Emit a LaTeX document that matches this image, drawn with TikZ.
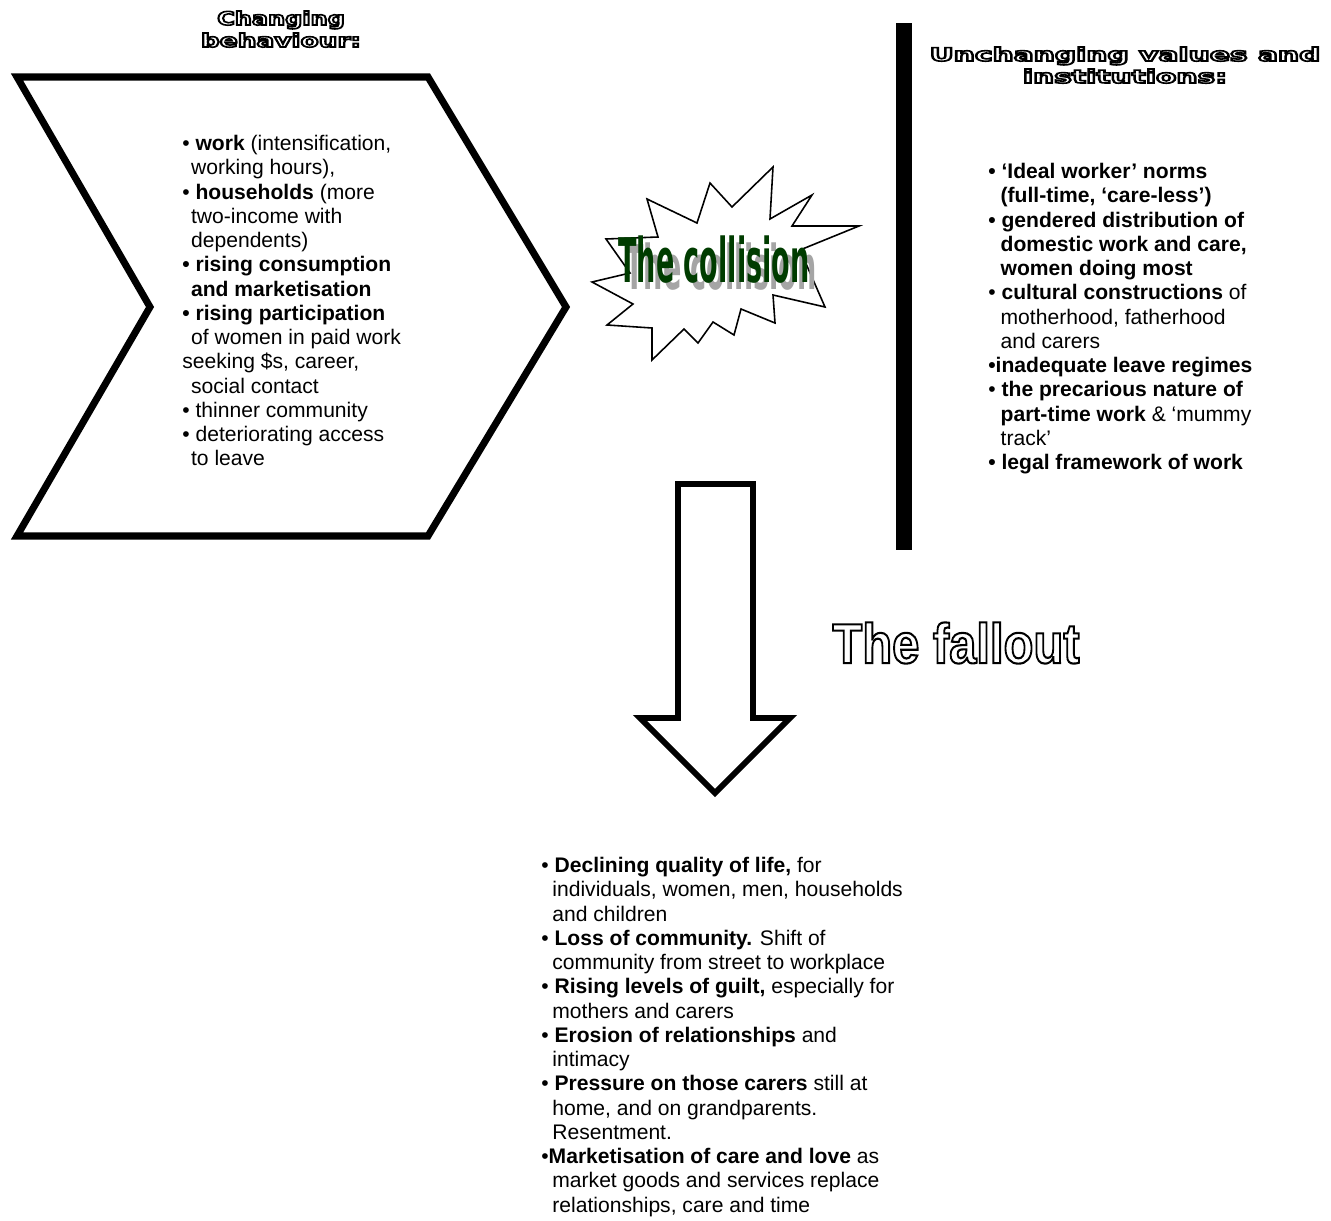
\documentclass[tikz,border=0pt]{standalone}
\usepackage{fontspec}
\setmainfont{Liberation Sans}
\newfontfamily\djv{DejaVu Sans}
\usepackage{graphicx}
\definecolor{collgreen}{RGB}{0,60,0}
\definecolor{shadowgray}{RGB}{165,165,165}
% outlined (stroked) text through the PDF text rendering mode
\newcommand{\strk}[2][0.5]{\special{pdf:literal direct 1 Tr #1 w}#2\special{pdf:literal direct 0 Tr}}
\begin{document}
\begin{tikzpicture}[x=0.02cm,y=-0.02cm,
  txt/.style={font=\fontsize{12}{13.8}\selectfont, align=left, inner sep=0pt, anchor=north west},
  hdr/.style={font=\djv\bfseries\fontsize{10.5}{12}\selectfont, inner sep=0pt, anchor=base},
  outline shape/.style={draw=black, line join=miter, fill=white}]
\useasboundingbox (0,0) rectangle (1331,1220);
\fill[white] (0,0) rectangle (1331,1220);

% left chevron
\draw[outline shape, line width=4pt] (17,77) -- (428,77) -- (566,307) -- (428,536) -- (17,536) -- (150,307) -- cycle;

% down arrow
\draw[outline shape, line width=3.4pt] (678,484) -- (753,484) -- (753,718) -- (790,718) -- (715,793) -- (640,718) -- (678,718) -- cycle;

% vertical bar
\fill[black] (896,23) rectangle (912,550);

% starburst
\draw[outline shape, line width=0.9pt] (773,167) -- (770,219) -- (812,195) -- (792,226) -- (859,226) -- (800,250) -- (825,307) -- (773,295) -- (775,323) -- (741,309) -- (734,335) -- (713,322) -- (698,343) -- (684,329) -- (652,360) -- (652,328) -- (607,325) -- (633,304) -- (592,282) -- (630,273) -- (606,239) -- (658,237) -- (647,199) -- (697,223) -- (710,183) -- (732,207) -- cycle;

% collision
\node[font=\djv\bfseries\fontsize{35}{40}\selectfont, text=shadowgray, inner sep=0pt] (collshadow) at (721,267) {\scalebox{0.44}[1]{The collision}};
\node[font=\djv\bfseries\fontsize{35}{40}\selectfont, text=collgreen, inner sep=0pt] (collision) at (714,260) {\scalebox{0.44}[1]{The collision}};

% headers
\node[hdr] (hdrL1) at (281,25) {\scalebox{1.3}[1]{\strk[0.9]{Changing}}};
\node[hdr] (hdrL2) at (281,47) {\scalebox{1.43}[1]{\strk[0.9]{behaviour:}}};
\node[hdr] (hdrR1) at (1125,61) {\scalebox{1.61}[1]{\strk[0.9]{Unchanging values and}}};
\node[hdr] (hdrR2) at (1125,83) {\scalebox{1.61}[1]{\strk[0.9]{institutions:}}};

% fallout
\node[font=\bfseries\fontsize{32}{36}\selectfont, inner sep=0pt] (fallout) at (956,643) {\scalebox{0.87}[1]{\strk[1.2]{The fallout}}};

% left text
\node[txt] (lefttext) at (182,135) {%
• \textbf{work} (intensification,\\
\hspace*{5pt}working hours),\\
• \textbf{households} (more\\
\hspace*{5pt}two-income with\\
\hspace*{5pt}dependents)\\
\textbf{• rising consumption}\\
\hspace*{5pt}\textbf{and marketisation}\\
\textbf{• rising participation}\\
\hspace*{5pt}of women in paid work\\
seeking \$s, career,\\
\hspace*{5pt}social contact\\
• thinner community\\
• deteriorating access\\
\hspace*{5pt}to leave};

% right text
\node[txt] (righttext) at (988,163) {%
\textbf{• ‘Ideal worker’ norms}\\
\hspace*{7pt}\textbf{(full-time, ‘care-less’)}\\
\textbf{• gendered distribution of}\\
\hspace*{7pt}\textbf{domestic work and care,}\\
\hspace*{7pt}\textbf{women doing most}\\
• \textbf{cultural constructions} of\\
\hspace*{7pt}motherhood, fatherhood\\
\hspace*{7pt}and carers\\
\textbf{•inadequate leave regimes}\\
• \textbf{the precarious nature of}\\
\hspace*{7pt}\textbf{part-time work} \& ‘mummy\\
\hspace*{7pt}track’\\
\textbf{• legal framework of work}};

% fallout text
\node[txt] (fallouttext) at (541,857) {%
• \textbf{Declining quality of life,} for\\
\hspace*{6.3pt}individuals, women, men, households\\
\hspace*{6.3pt}and children\\
• \textbf{Loss of community.} Shift of\\
\hspace*{6.3pt}community from street to workplace\\
• \textbf{Rising levels of guilt,} especially for\\
\hspace*{6.3pt}mothers and carers\\
• \textbf{Erosion of relationships} and\\
\hspace*{6.3pt}intimacy\\
• \textbf{Pressure on those carers} still at\\
\hspace*{6.3pt}home, and on grandparents.\\
\hspace*{6.3pt}Resentment.\\
•\textbf{Marketisation of care and love} as\\
\hspace*{6.3pt}market goods and services replace\\
\hspace*{6.3pt}relationships, care and time};
\end{tikzpicture}
\end{document}
